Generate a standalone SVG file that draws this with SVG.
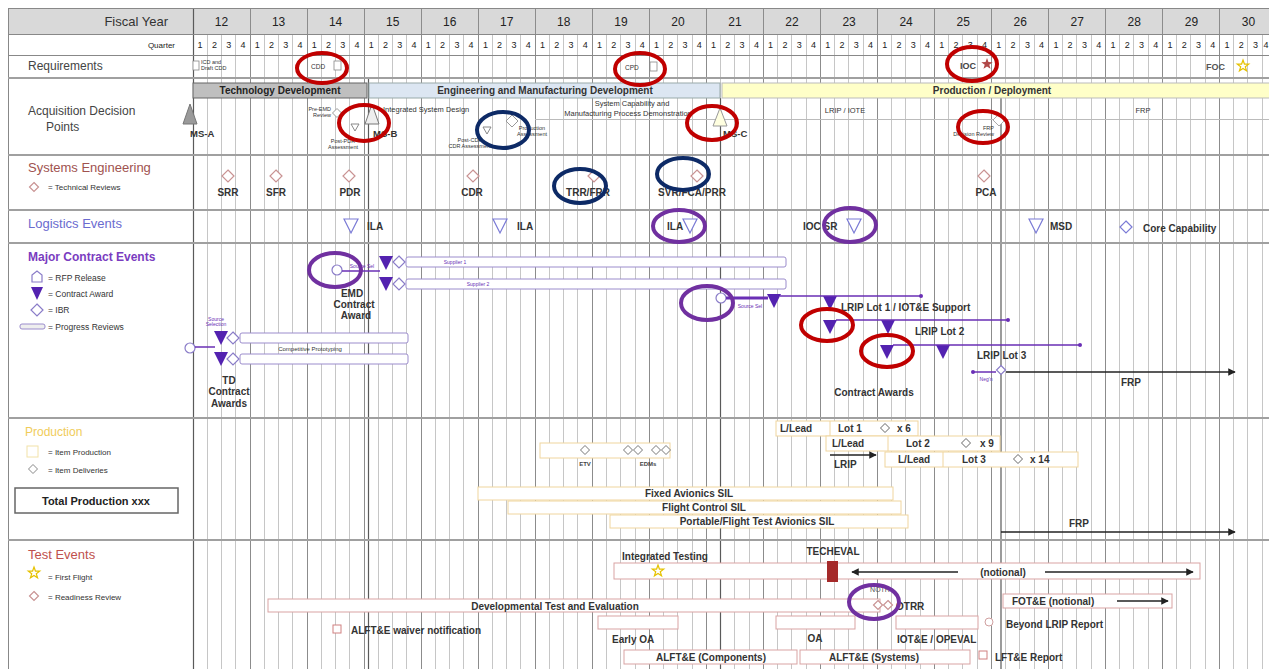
<svg xmlns="http://www.w3.org/2000/svg" width="1269" height="669" viewBox="0 0 1269 669">
<style>
text{font-family:"Liberation Sans",Arial,sans-serif}
.b{font-weight:bold}
.t{font-size:5.5px;fill:#333}
.tp{font-size:5px;fill:#6a2fb5}
.lg{font-size:8.5px;fill:#333}
.ev{font-size:10px;font-weight:bold;fill:#333}
.ql{stroke:#c6c6c6;stroke-width:1;fill:none}
.yl{stroke:#8c8c8c;stroke-width:1;fill:none}
.ml{stroke:#5a5a5a;stroke-width:1.2;fill:none}
.sep{stroke:#a0a0a0;stroke-width:2.2}
.pb{fill:#fff;stroke:#9b8ccc;stroke-width:1}
.pt{fill:#5322b0}
.pl{stroke:#6a2fb5;stroke-width:1.5;fill:none}
.sd{fill:#fff;stroke:#c99393;stroke-width:1.2}
.ld{fill:#fff;stroke:#7b7bd6;stroke-width:1.2}
.pd{fill:#fff;stroke:#8a7cc8;stroke-width:1.2}
.rc{fill:none;stroke:#c00000;stroke-width:4}
.nc{fill:none;stroke:#0d2a66;stroke-width:4}
.vc{fill:none;stroke:#7030a0;stroke-width:4}
.yb{fill:#fff;stroke:#f0d59e;stroke-width:1}
.tb{fill:#fff;stroke:#d9a3a3;stroke-width:1}
.ar{stroke:#222;stroke-width:1.5;fill:none}
</style>
<defs>
<path id="dia" d="M0,-6 L6,0 L0,6 L-6,0 Z"/>
<path id="dias" d="M0,-4.5 L4.5,0 L0,4.5 L-4.5,0 Z"/>
<path id="tri" d="M-7,-7 L7,-7 L0,7 Z"/>
<path id="star" d="M0,-6 L1.41,-1.94 L5.71,-1.85 L2.28,0.74 L3.53,4.85 L0,2.4 L-3.53,4.85 L-2.28,0.74 L-5.71,-1.85 L-1.41,-1.94 Z"/>
<marker id="ah" viewBox="0 0 10 10" refX="9" refY="5" markerWidth="5" markerHeight="5" orient="auto-start-reverse"><path d="M0,0 L10,5 L0,10 Z" fill="#222"/></marker>
</defs>

<rect x="0" y="0" width="1269" height="669" fill="#fff"/>
<rect x="8" y="8" width="1261" height="26" fill="#d9d9d9"/>

<g id="grid">
<path class="ql" d="M207.5 34V669M221.5 34V669M235.5 34V669M264.5 34V669M278.5 34V669M292.5 34V669M321.5 34V669M335.5 34V669M349.5 34V669M378.5 34V669M392.5 34V669M406.5 34V669M435.5 34V669M449.5 34V669M463.5 34V669M492.5 34V669M506.5 34V669M520.5 34V669M549.5 34V669M563.5 34V669M577.5 34V669M606.5 34V669M620.5 34V669M635.5 34V669M663.5 34V669M677.5 34V669M692.5 34V669M720.5 34V669M734.5 34V669M749.5 34V669M777.5 34V669M791.5 34V669M806.5 34V669M834.5 34V669M848.5 34V669M863.5 34V669M891.5 34V669M905.5 34V669M920.5 34V669M948.5 34V669M962.5 34V669M977.5 34V669M1005.5 34V669M1019.5 34V669M1034.5 34V669M1062.5 34V669M1076.5 34V669M1091.5 34V669M1119.5 34V669M1133.5 34V669M1148.5 34V669M1176.5 34V669M1190.5 34V669M1205.5 34V669M1233.5 34V669M1247.5 34V669M1262.5 34V669"/>
<path class="yl" d="M250.5 8V669M307.5 8V669M364.5 8V669M421.5 8V669M478.5 8V669M535.5 8V669M592.5 8V669M649.5 8V669M706.5 8V669M763.5 8V669M820.5 8V669M877.5 8V669M934.5 8V669M991.5 8V669M1048.5 8V669M1105.5 8V669M1162.5 8V669M1219.5 8V669"/>
<path class="ml" d="M193.5 8V669M368.5 78V669M720.5 98V669M1001 98V669"/>
<path stroke="#888" stroke-width="1" fill="none" d="M8.5 8V669M8 8.5H1269M8 34.5H1269M8 55.5H1269"/>
<path class="sep" d="M8 78H1269M8 155H1269M8 210H1269M8 243H1269M8 418H1269M8 540H1269"/>
</g>

<g id="header">
<text x="168" y="26" font-size="13" fill="#333" text-anchor="end">Fiscal Year</text>
<g font-size="12" text-anchor="middle" fill="#222">
<text x="221.5" y="26">12</text><text x="278.6" y="26">13</text><text x="335.6" y="26">14</text><text x="392.7" y="26">15</text><text x="449.7" y="26">16</text><text x="506.8" y="26">17</text><text x="563.8" y="26">18</text><text x="620.9" y="26">19</text><text x="677.9" y="26">20</text><text x="735" y="26">21</text><text x="792" y="26">22</text><text x="849.1" y="26">23</text><text x="906.1" y="26">24</text><text x="963.2" y="26">25</text><text x="1020.2" y="26">26</text><text x="1077.3" y="26">27</text><text x="1134.3" y="26">28</text><text x="1191.4" y="26">29</text><text x="1248.4" y="26">30</text>
</g>
<text x="175" y="48" font-size="8" fill="#222" text-anchor="end">Quarter</text>
<text y="48" font-size="9" fill="#222" text-anchor="middle" x="200.1 214.4 228.7 242.9 257.2 271.4 285.7 300.0 314.2 328.5 342.8 357.0 371.3 385.5 399.8 414.1 428.3 442.6 456.9 471.1 485.4 499.6 513.9 528.2 542.4 556.7 571.0 585.2 599.5 613.7 628.0 642.3 656.5 670.8 685.1 699.3 713.6 727.8 742.1 756.4 770.6 784.9 799.2 813.4 827.7 841.9 856.2 870.5 884.7 899.0 913.3 927.5 941.8 956.0 970.3 984.6 998.8 1013.1 1027.4 1041.6 1055.9 1070.1 1084.4 1098.7 1112.9 1127.2 1141.5 1155.7 1170.0 1184.2 1198.5 1212.8 1227.0 1241.3 1255.6 1266.0">1234123412341234123412341234123412341234123412341234123412341234123412341234</text>
</g>

<g id="requirements">
<text x="28" y="70" font-size="12" fill="#444">Requirements</text>
<rect x="193" y="61" width="6" height="9" fill="#fff" stroke="#888" stroke-width="0.8"/>
<text x="201" y="64" class="t">ICD and</text><text x="201" y="70" class="t">Draft CDD</text>
<text x="311" y="69" font-size="6.5" fill="#333">CDD</text>
<rect x="334" y="61" width="7" height="9" fill="#fff" stroke="#888" stroke-width="0.8"/>
<text x="625" y="70" font-size="6.5" fill="#333">CPD</text>
<rect x="650" y="62" width="7" height="9" fill="#fff" stroke="#888" stroke-width="0.8"/>
<text x="960" y="69" font-size="9" class="b" fill="#444">IOC</text>
<use href="#star" x="987" y="64" fill="#b04848"/>
<text x="1206" y="70" font-size="9" class="b" fill="#555">FOC</text>
<use href="#star" x="1243" y="66" fill="#fff" stroke="#e6c200" stroke-width="1.2"/>
</g>

<g id="acquisition">
<text x="28" y="115" font-size="12" fill="#444">Acquisition Decision</text>
<text x="46" y="131" font-size="12" fill="#444">Points</text>
<rect x="193" y="83" width="174" height="15" fill="#bfbfbf" stroke="#666"/>
<text x="280" y="94" font-size="10" class="b" fill="#222" text-anchor="middle">Technology Development</text>
<rect x="369" y="83" width="351" height="15" fill="#dce6f2" stroke="#9aa"/>
<text x="545" y="94" font-size="10" class="b" text-anchor="middle" fill="#333">Engineering and Manufacturing Development</text>
<rect x="722" y="83" width="548" height="15" fill="#ffffc8" stroke="#bbb"/>
<text x="992" y="94" font-size="10" class="b" text-anchor="middle" fill="#333">Production / Deployment</text>
<path d="M535 119.5H1269" stroke="#bbb" stroke-width="1"/>
<polygon points="190,104 197,124 183,124" fill="#9a9a9a" stroke="#777"/>
<text x="190" y="137" font-size="9.5" class="b" fill="#333">MS-A</text>
<use href="#dias" x="337" y="113" fill="#fff" stroke="#999"/>
<text x="331" y="111" class="t" text-anchor="end">Pre-EMD</text><text x="331" y="117" class="t" text-anchor="end">Review</text>
<path d="M351,124 L359,124 L355,131 Z" fill="#fff" stroke="#888"/>
<text x="343" y="143" class="t" text-anchor="middle">Post-PDR</text><text x="343" y="149" class="t" text-anchor="middle">Assessment</text>
<polygon points="372,104 379,124 365,124" fill="#eee" stroke="#777"/>
<text x="373" y="137" font-size="9.5" class="b" fill="#333">MS-B</text>
<text x="383" y="112" font-size="7.5" fill="#333">Integrated System Design</text>
<path d="M483,127 L491,127 L487,134 Z" fill="#fff" stroke="#888"/>
<text x="470" y="142" class="t" text-anchor="middle">Post-CDR</text><text x="470" y="148" class="t" text-anchor="middle">CDR Assessment</text>
<use href="#dia" x="512" y="121" fill="#fff" stroke="#999"/>
<text x="532" y="130" class="t" text-anchor="middle">Production</text><text x="532" y="136" class="t" text-anchor="middle">Assessment</text>
<text x="632" y="106" font-size="7.5" text-anchor="middle" fill="#333">System Capability and</text>
<text x="628" y="116" font-size="7.5" text-anchor="middle" fill="#333">Manufacturing Process Demonstration</text>
<polygon points="720,108 727,126 713,126" fill="#ffffe0" stroke="#999"/>
<text x="723" y="137" font-size="9.5" class="b" fill="#333">MS-C</text>
<text x="845" y="113" font-size="7.5" text-anchor="middle" fill="#333">LRIP / IOTE</text>
<text x="1143" y="113" font-size="7.5" text-anchor="middle" fill="#333">FRP</text>
<use href="#dia" x="999" y="120" fill="#fff" stroke="#aaa"/>
<text x="994" y="130" class="t" text-anchor="end">FRP</text><text x="994" y="136" class="t" text-anchor="end">Decision Review</text>
</g>

<g id="systems-engineering">
<text x="28" y="172" font-size="13" fill="#a0524f">Systems Engineering</text>
<use href="#dias" x="34" y="187" class="sd"/>
<text x="48" y="190" font-size="8" fill="#333">= Technical Reviews</text>
<use href="#dia" x="228" y="176" class="sd"/><use href="#dia" x="276" y="176" class="sd"/><use href="#dia" x="349" y="176" class="sd"/><use href="#dia" x="473" y="176" class="sd"/><use href="#dia" x="594" y="176" class="sd"/><use href="#dia" x="697" y="176" class="sd"/><use href="#dia" x="984" y="176" class="sd"/>
<g class="ev" text-anchor="middle">
<text x="228" y="196">SRR</text><text x="276" y="196">SFR</text><text x="350" y="196">PDR</text><text x="472" y="196">CDR</text><text x="588" y="196">TRR/FRR</text><text x="692" y="196">SVR/FCA/PRR</text><text x="986" y="196">PCA</text>
</g>
</g>

<g id="logistics">
<text x="28" y="228" font-size="13" fill="#6b6bcf">Logistics Events</text>
<use href="#tri" x="351" y="226" class="ld"/><use href="#tri" x="500" y="226" class="ld"/><use href="#tri" x="690" y="226" class="ld"/><use href="#tri" x="854" y="226" class="ld"/><use href="#tri" x="1036" y="226" class="ld"/>
<use href="#dia" x="1126" y="227" class="ld"/>
<g class="ev">
<text x="367" y="230">ILA</text><text x="517" y="230">ILA</text><text x="667" y="230">ILA</text><text x="803" y="230">IOC SR</text><text x="1050" y="230">MSD</text><text x="1143" y="232">Core Capability</text>
</g>
</g>

<g id="contract-legend">
<text x="28" y="261" font-size="12" class="b" fill="#7a3cc0">Major Contract Events</text>
<path d="M32,275 L37,271 L42,275 L42,282 L32,282 Z" class="pd"/>
<text x="48" y="281" class="lg">= RFP Release</text>
<path d="M31,287 L43,287 L37,300 Z" class="pt"/>
<text x="48" y="297" class="lg">= Contract Award</text>
<use href="#dia" x="37" y="310" class="pd"/>
<text x="48" y="313" class="lg">= IBR</text>
<rect x="20" y="324" width="25" height="5" rx="2" fill="#eee" stroke="#9b8ccc"/>
<text x="48" y="330" class="lg">= Progress Reviews</text>
</g>

<g id="emd-contract">
<circle cx="337" cy="270" r="5" class="pd"/>
<text x="362" y="268" class="tp" text-anchor="middle">Source Sel</text>
<use href="#tri" x="386" y="263" class="pt"/><use href="#tri" x="386" y="284" class="pt"/>
<use href="#dia" x="399" y="262" class="pd"/><use href="#dia" x="399" y="284" class="pd"/>
<rect x="406" y="257" width="380" height="10" rx="2" class="pb"/>
<text x="455" y="264" class="tp" text-anchor="middle">Supplier 1</text>
<rect x="406" y="279" width="380" height="10" rx="2" class="pb"/>
<text x="478" y="286" class="tp" text-anchor="middle">Supplier 2</text>
<g class="ev" font-size="10.5" text-anchor="middle"><text x="352" y="297">EMD</text><text x="354" y="308">Contract</text><text x="356" y="319">Award</text></g>
</g>

<g id="td-contract">
<text x="216" y="321" class="tp" text-anchor="middle">Source</text><text x="216" y="326" class="tp" text-anchor="middle">Selection</text>
<circle cx="190" cy="348" r="5" class="pd"/>
<use href="#tri" x="221" y="338" class="pt"/><use href="#tri" x="221" y="359" class="pt"/>
<use href="#dia" x="233" y="338" class="pd"/><use href="#dia" x="233" y="359" class="pd"/>
<rect x="240" y="333" width="168" height="10" rx="2" class="pb"/>
<rect x="240" y="354" width="168" height="10" rx="2" class="pb"/>
<text x="310" y="351" font-size="6" fill="#333" text-anchor="middle">Competitive Prototyping</text>
<g class="ev" font-size="10.5" text-anchor="middle"><text x="229" y="384">TD</text><text x="229" y="395">Contract</text><text x="229" y="407">Awards</text></g>
</g>

<g id="lrip-contracts">
<circle cx="721" cy="298" r="5" class="pd"/>
<text x="750" y="308" class="tp" text-anchor="middle">Source Sel</text>
<use href="#tri" x="774" y="301" class="pt"/>
<use href="#tri" x="830" y="303" class="pt"/>
<text x="841" y="311" class="ev" font-size="10.5">LRIP Lot 1 / IOT&amp;E Support</text>
<use href="#tri" x="830" y="327" class="pt"/>
<use href="#tri" x="888" y="327" class="pt"/>
<text x="915" y="335" class="ev" font-size="10.5">LRIP Lot 2</text>
<use href="#tri" x="887" y="352" class="pt"/>
<use href="#tri" x="943" y="352" class="pt"/>
<text x="977" y="359" class="ev" font-size="10.5">LRIP Lot 3</text>
<text x="986" y="381" class="tp" text-anchor="middle">Neg'n</text>
<use href="#dias" x="1001" y="370" class="pd"/>
<text x="1131" y="386" class="ev" font-size="10.5" text-anchor="middle">FRP</text>
<text x="874" y="396" class="ev" font-size="10.5" text-anchor="middle">Contract Awards</text>
</g>

<g id="production-legend">
<text x="25" y="436" font-size="12" fill="#f0cc5a">Production</text>
<rect x="27" y="446" width="11" height="11" fill="#fff" stroke="#f2e2a8"/>
<text x="48" y="455" font-size="8" fill="#333">= Item Production</text>
<use href="#dias" x="33" y="469" fill="#fff" stroke="#888"/>
<text x="48" y="473" font-size="8" fill="#333">= Item Deliveries</text>
<rect x="15" y="488" width="163" height="25" fill="#fff" stroke="#666" stroke-width="1.5"/>
<text x="96" y="505" font-size="11" class="b" fill="#222" text-anchor="middle">Total Production xxx</text>
</g>

<g id="production">
<rect x="540" y="443" width="130" height="15" class="yb"/>
<use href="#dias" x="585" y="450" fill="#fff" stroke="#777"/><use href="#dias" x="628" y="450" fill="#fff" stroke="#777"/><use href="#dias" x="638" y="450" fill="#fff" stroke="#777"/><use href="#dias" x="656" y="450" fill="#fff" stroke="#777"/><use href="#dias" x="666" y="450" fill="#fff" stroke="#777"/>
<text x="585" y="466" font-size="6" class="b" fill="#444" text-anchor="middle">ETV</text>
<text x="648" y="466" font-size="6" class="b" fill="#444" text-anchor="middle">EDMs</text>
<rect x="776" y="421" width="142" height="15" class="yb"/><path d="M830 421V436" stroke="#f0d59e"/>
<text x="780" y="432" class="ev">L/Lead</text><text x="838" y="432" class="ev">Lot 1</text><use href="#dias" x="885" y="428" fill="#fff" stroke="#666"/><text x="897" y="432" class="ev">x 6</text>
<rect x="826" y="436" width="174" height="15" class="yb"/><path d="M888 436V451" stroke="#f0d59e"/>
<text x="832" y="447" class="ev">L/Lead</text><text x="906" y="447" class="ev">Lot 2</text><use href="#dias" x="966" y="443" fill="#fff" stroke="#666"/><text x="980" y="447" class="ev">x 9</text>
<text x="834" y="468" class="ev">LRIP</text>
<rect x="885" y="452" width="193" height="15" class="yb"/><path d="M943 452V467" stroke="#f0d59e"/>
<text x="898" y="463" class="ev">L/Lead</text><text x="962" y="463" class="ev">Lot 3</text><use href="#dias" x="1018" y="459" fill="#fff" stroke="#666"/><text x="1030" y="463" class="ev">x 14</text>
<rect x="478" y="487" width="415" height="13" class="yb"/>
<text x="689" y="497" class="ev" text-anchor="middle">Fixed Avionics SIL</text>
<rect x="508" y="501" width="393" height="13" class="yb"/>
<text x="704" y="511" class="ev" text-anchor="middle">Flight Control SIL</text>
<rect x="610" y="515" width="298" height="13" class="yb"/>
<text x="757" y="525" class="ev" text-anchor="middle">Portable/Flight Test Avionics SIL</text>
<text x="1079" y="527" class="ev" text-anchor="middle">FRP</text>
</g>

<g id="test-legend">
<text x="28" y="559" font-size="13" fill="#c0504d">Test Events</text>
<use href="#star" x="34" y="573" fill="#fff" stroke="#e6c200" stroke-width="1.2"/>
<text x="48" y="580" font-size="8" fill="#333">= First Flight</text>
<use href="#dias" x="34" y="596" class="sd"/>
<text x="48" y="600" font-size="8" fill="#333">= Readiness Review</text>
</g>

<g id="test-events">
<text x="622" y="560" class="ev" font-size="10.5">Integrated Testing</text>
<rect x="614" y="563" width="586" height="16" class="tb"/>
<use href="#star" x="658" y="571" fill="#fff" stroke="#e6c200" stroke-width="1.2"/>
<text x="833" y="555" class="ev" font-size="10.5" text-anchor="middle">TECHEVAL</text>
<rect x="827" y="561" width="11" height="21" fill="#a52a2a"/>
<text x="1003" y="576" class="ev" text-anchor="middle">(notional)</text>
<rect x="268" y="599" width="612" height="13" class="tb"/>
<text x="555" y="610" class="ev" font-size="10.5" text-anchor="middle">Developmental Test and Evaluation</text>
<text x="880" y="592" font-size="7" fill="#555" text-anchor="middle">NOTR</text>
<use href="#dias" x="878" y="605" class="sd"/><use href="#dias" x="888" y="605" class="sd"/>
<text x="896" y="610" class="ev">OTRR</text>
<rect x="1003" y="594" width="169" height="14" class="tb"/>
<text x="1012" y="605" class="ev" font-size="10.5">FOT&amp;E (notional)</text>
<rect x="333" y="625" width="8" height="8" fill="#fff" stroke="#d08080"/>
<text x="351" y="634" class="ev">ALFT&amp;E waiver notification</text>
<rect x="598" y="616" width="80" height="13" class="tb"/>
<text x="612" y="643" class="ev">Early OA</text>
<rect x="776" y="616" width="79" height="13" class="tb"/>
<text x="815" y="642" class="ev" text-anchor="middle">OA</text>
<rect x="896" y="616" width="82" height="13" class="tb"/>
<text x="897" y="643" class="ev">IOT&amp;E / OPEVAL</text>
<circle cx="989" cy="622" r="4" fill="#fff" stroke="#d0a0a0"/>
<text x="1006" y="628" class="ev">Beyond LRIP Report</text>
<rect x="624" y="650" width="173" height="14" class="tb"/>
<text x="711" y="661" class="ev" text-anchor="middle">ALFT&amp;E (Components)</text>
<rect x="800" y="650" width="170" height="14" class="tb"/>
<text x="874" y="661" class="ev" text-anchor="middle">ALFT&amp;E (Systems)</text>
<rect x="979" y="651" width="8" height="8" fill="#fff" stroke="#d08080"/>
<text x="995" y="661" class="ev">LFT&amp;E Report</text>
</g>

<g id="connectors">
<path class="pl" d="M342 271H380"/>
<path class="pl" d="M195 347H215"/>
<path stroke="#6a2fb5" stroke-width="3" fill="none" d="M726 298H768"/>
<path class="pl" d="M780 296H920M836 320H1007M893 345H1079"/>
<circle cx="921" cy="296" r="2" fill="#6a2fb5"/><circle cx="1008" cy="320" r="2" fill="#6a2fb5"/><circle cx="1080" cy="345" r="2" fill="#6a2fb5"/>
<path class="pl" d="M974 372H996"/><circle cx="973" cy="372" r="2" fill="#6a2fb5"/>
<path class="ar" marker-end="url(#ah)" d="M1006 372H1235"/>
<path class="ar" marker-end="url(#ah)" d="M1001 532H1235"/>
<path class="ar" marker-end="url(#ah)" d="M830 455H876"/>
<path class="ar" marker-end="url(#ah)" d="M958 572H852"/>
<path class="ar" marker-end="url(#ah)" d="M1045 572H1193"/>
<path class="ar" marker-end="url(#ah)" d="M1117 601H1168"/>
</g>

<g id="highlights">
<ellipse cx="322" cy="68" rx="25" ry="15" class="rc"/>
<ellipse cx="640" cy="69" rx="25" ry="16" class="rc"/>
<ellipse cx="972" cy="64" rx="25" ry="17" class="rc"/>
<ellipse cx="364" cy="123" rx="25" ry="18" class="rc"/>
<ellipse cx="712" cy="123" rx="25" ry="17" class="rc"/>
<ellipse cx="983" cy="127" rx="25" ry="16" class="rc"/>
<ellipse cx="827" cy="325" rx="26" ry="16" class="rc"/>
<ellipse cx="887" cy="351" rx="26" ry="16" class="rc"/>
<ellipse cx="503" cy="130" rx="26" ry="18" class="nc"/>
<ellipse cx="580" cy="186" rx="26" ry="17" class="nc"/>
<ellipse cx="683" cy="174" rx="26" ry="16" class="nc"/>
<ellipse cx="679" cy="226" rx="26" ry="16" class="vc"/>
<ellipse cx="850" cy="225" rx="26" ry="17" class="vc"/>
<ellipse cx="335" cy="270" rx="26" ry="17" class="vc"/>
<ellipse cx="707" cy="303" rx="26" ry="17" class="vc"/>
<ellipse cx="874" cy="602" rx="25" ry="17" class="vc"/>
</g>
</svg>
